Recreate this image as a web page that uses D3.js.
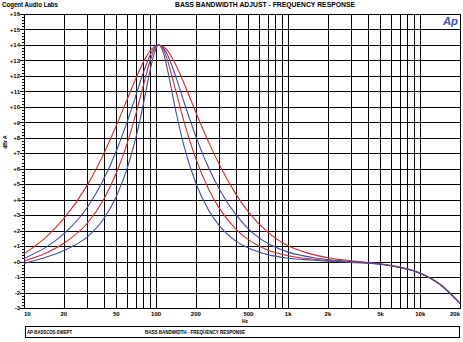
<!DOCTYPE html>
<html><head><meta charset="utf-8">
<script src="https://cdn.jsdelivr.net/npm/d3@7"></script>
<style>
html,body{margin:0;padding:0;background:#fff;}
svg{display:block;}
text{font-family:"Liberation Sans",Arial,sans-serif;font-weight:bold;fill:#000;}
</style></head>
<body>
<script>
// ---------- data ----------
const freqs = [10,15,20,30,40,50,60,70,80,90,95,105,115,120,140,160,200,250,300,400,500,700,1000,1500,2000,3000,5000,7000,10000,14000,20000];
const red1  = [0.50,1.65,2.77,4.91,6.94,8.79,10.42,11.80,12.89,13.62,13.83,14.0,13.86,13.71,12.77,11.67,9.65,7.72,6.30,4.39,3.21,1.90,1.02,0.48,0.25,0.05,-0.14,-0.36,-0.74,-1.45,-2.7];
const blue1 = [0.20,0.98,1.79,3.48,5.30,7.15,8.96,10.68,12.20,13.34,13.71,14.0,13.76,13.49,12.03,10.50,8.09,6.06,4.70,3.05,2.12,1.18,0.61,0.28,0.13,0.00,-0.16,-0.37,-0.75,-1.45,-2.7];
const red2  = [0.04,0.59,1.18,2.46,4.00,5.72,7.56,9.48,11.36,12.96,13.53,14.0,13.61,13.20,11.14,9.27,6.65,4.68,3.47,2.12,1.42,0.75,0.38,0.17,0.07,-0.03,-0.17,-0.38,-0.75,-1.45,-2.7];
const blue2 = [-0.12,0.31,0.72,1.58,2.75,4.21,5.94,7.94,10.15,12.33,13.21,14.0,13.34,12.68,9.86,7.71,5.06,3.32,2.34,1.34,0.87,0.45,0.22,0.10,0.03,-0.05,-0.17,-0.38,-0.75,-1.45,-2.7];
const seriesNames = ["red1","blue1","red2","blue2"];
const seriesColors = ["#d8282c","#3e4fa8","#d8282c","#3e4fa8"];
const xTickValues = [10,20,50,100,200,500,1000,2000,5000,10000,20000];
const xTickLabels = ["10","20","50","100","200","500","1k","2k","5k","10k","20k"];
const yMin = -3, yMax = 16;
const titleText = "BASS BANDWIDTH ADJUST - FREQUENCY RESPONSE";
const companyText = "Cogent Audio Labs";
const footerLeft = "AP-BASSCOS-SWEPT";
const footerCenter = "BASS BANDWIDTH - FREQUENCY RESPONSE";
const xTitle = "Hz";
const yTitle = "dBr A";

// ---------- layout ----------
const W = 463, H = 342;
const L = 24, R = 460, T = 14, B = 308;
const svg = d3.select("body").append("svg").attr("width", W).attr("height", H);

const x = d3.scaleLog().domain([10, 20000]).range([L, R]);
const y = d3.scaleLinear().domain([yMin, yMax]).range([B, T]);

// grid
const g = svg.append("g");
const vlines = [];
for (let d = 10; d <= 10000; d *= 10) for (let m = 1; m <= 9; m++) { const v = d*m; if (v <= 20000) vlines.push(v); }
vlines.push(20000);
g.selectAll("line.v").data(vlines).enter().append("line")
  .attr("x1", d => Math.round(x(d)) + 0.5).attr("x2", d => Math.round(x(d)) + 0.5)
  .attr("y1", T).attr("y2", B).attr("stroke", "#000").attr("stroke-width", 1);
g.selectAll("line.h").data(d3.range(yMin, yMax + 1)).enter().append("line")
  .attr("x1", L).attr("x2", R)
  .attr("y1", d => Math.round(y(d)) + 0.5).attr("y2", d => Math.round(y(d)) + 0.5)
  .attr("stroke", "#000").attr("stroke-width", 1);
g.append("rect").attr("x", L + 0.5).attr("y", T + 0.5).attr("width", R - L).attr("height", B - T)
  .attr("fill", "none").attr("stroke", "#000").attr("stroke-width", 1);

// y minor ticks
const minor = d3.range(yMin * 5, yMax * 5 + 1).map(v => v / 5);
g.selectAll("line.mt").data(minor).enter().append("line")
  .attr("x1", L - 2).attr("x2", L)
  .attr("y1", d => Math.round(y(d)) + 0.5).attr("y2", d => Math.round(y(d)) + 0.5)
  .attr("stroke", "#000").attr("stroke-width", 1);
g.selectAll("line.Mt").data(d3.range(yMin, yMax + 1)).enter().append("line")
  .attr("x1", L - 4).attr("x2", L)
  .attr("y1", d => Math.round(y(d)) + 0.5).attr("y2", d => Math.round(y(d)) + 0.5)
  .attr("stroke", "#000").attr("stroke-width", 1);

// y labels
svg.selectAll("text.yl").data(d3.range(yMin, yMax + 1)).enter().append("text")
  .attr("x", L - 4).attr("y", d => y(d) + 2.2).attr("text-anchor", "end")
  .attr("font-size", 6).text(d => (d >= 0 ? "+" : "") + d);

// x labels
svg.selectAll("text.xl").data(xTickValues).enter().append("text")
  .attr("x", d => x(d)).attr("y", B + 8)
  .attr("text-anchor", (d, i) => i === 0 ? "start" : (i === xTickValues.length - 1 ? "end" : "middle"))
  .attr("font-size", 6).text((d, i) => xTickLabels[i]);

svg.append("text").attr("x", 245).attr("y", 323).attr("text-anchor", "middle").attr("font-size", 5).text(xTitle);
svg.append("text").attr("transform", "translate(7,142) rotate(-90)").attr("text-anchor", "middle")
  .attr("font-size", 5).text(yTitle);

// curves
const allSeries = [red1, blue1, red2, blue2];
const line = d3.line().x(d => x(d[0])).y(d => y(d[1])).curve(d3.curveMonotoneX);
svg.append("g").selectAll("path").data(allSeries).enter().append("path")
  .attr("d", s => line(freqs.map((f, i) => [f, s[i]])))
  .attr("fill", "none").attr("stroke", (d, i) => seriesColors[i]).attr("stroke-width", 1.1);

// header
svg.append("text").attr("x", 2).attr("y", 7).attr("font-size", 6.5).attr("textLength", 56)
  .attr("lengthAdjust", "spacingAndGlyphs").text(companyText);
svg.append("text").attr("x", 175).attr("y", 7).attr("font-size", 6.5).attr("textLength", 180)
  .attr("lengthAdjust", "spacingAndGlyphs").text(titleText);

// Ap logo
svg.append("rect").attr("x", 442).attr("y", 15).attr("width", 17).attr("height", 11).attr("fill", "#fff");
svg.append("text").attr("x", 443).attr("y", 25).attr("font-size", 11).attr("font-style", "italic")
  .style("fill", "#3a54a8").attr("textLength", 15).attr("lengthAdjust", "spacingAndGlyphs").text("Ap");

// footer box
svg.append("rect").attr("x", 25.5).attr("y", 326.5).attr("width", 434).attr("height", 11)
  .attr("fill", "none").attr("stroke", "#000").attr("stroke-width", 1);
svg.append("text").attr("x", 27).attr("y", 334).attr("font-size", 5).attr("textLength", 45)
  .attr("lengthAdjust", "spacingAndGlyphs").text(footerLeft);
svg.append("text").attr("x", 145).attr("y", 334).attr("font-size", 5).attr("textLength", 100)
  .attr("lengthAdjust", "spacingAndGlyphs").text(footerCenter);
</script>
</body></html>
